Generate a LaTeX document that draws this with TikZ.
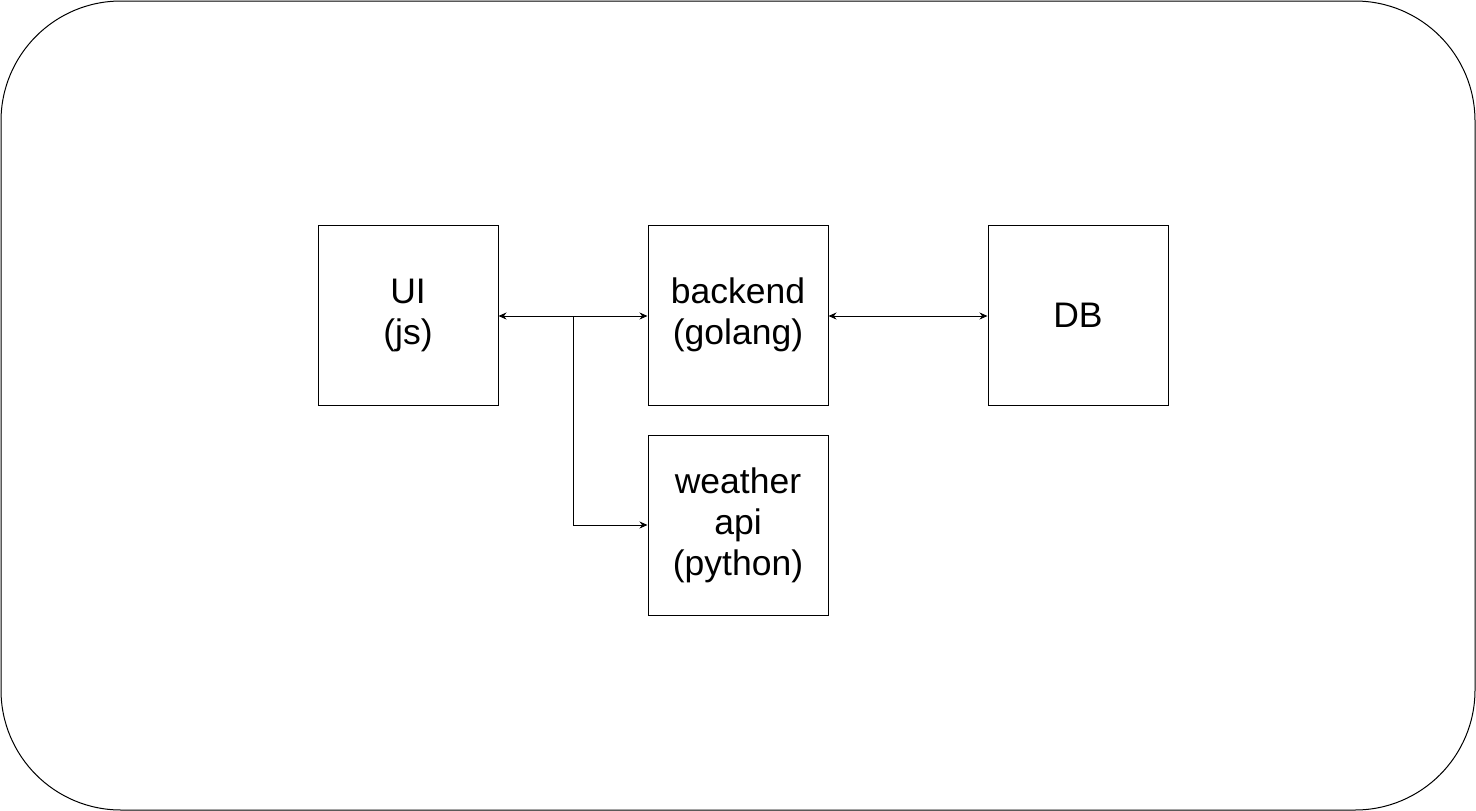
\documentclass[tikz,border=0pt]{standalone}
\usepackage{fontspec}
\setmainfont{Liberation Sans}
\usetikzlibrary{arrows.meta}
\begin{document}
\begin{tikzpicture}[x=1pt,y=-1pt,
  box/.style={draw,line width=1pt,minimum width=180pt,minimum height=180pt,inner sep=0pt,align=center,font=\fontsize{35.5}{41}\selectfont},
  conn/.style={line width=1pt,{Stealth[length=8pt,width=7pt]}-{Stealth[length=8pt,width=7pt]}},
  conn1/.style={line width=1pt,-{Stealth[length=8pt,width=7pt]}}]
\useasboundingbox (0,0) rectangle (1476,811);
\draw[line width=1pt,rounded corners=120pt] (1,1) rectangle (1475,810);
\node[box] (ui) at (408,315) {UI\\(js)};
\node[box] (be) at (738,315) {backend\\(golang)};
\node[box] (db) at (1078,315) {DB};
\node[box] (wa) at (738,525) {weather\\api\\(python)};
\coordinate (br) at (573,316);
\coordinate (bc) at (573,525);
\draw[conn] (ui.east |- br) -- (be.west |- br);
\draw[conn] (be.east |- br) -- (db.west |- br);
\draw[conn1] (br) -- (bc) -- (wa.west);
\end{tikzpicture}
\end{document}
